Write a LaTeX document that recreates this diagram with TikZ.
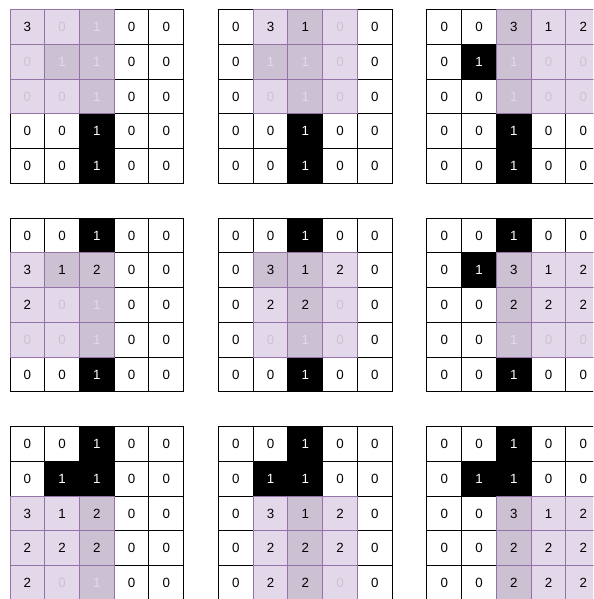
\documentclass[tikz,border=0pt]{standalone}
\usepackage{fontspec}
\setmainfont{Liberation Sans}
\usepackage{tikz}
\definecolor{winfill}{HTML}{E1D5E7}
\definecolor{winline}{HTML}{9673A6}
\tikzset{
  cell/.style    = {draw=black, line width=0.75pt, minimum size=26.05pt, inner sep=0pt,
                    font=\fontsize{10}{12}\selectfont},
  wincell/.style = {cell, draw=winline, fill=winfill, fill opacity=0.91, text opacity=1, text=black},
}

\begin{document}
\begin{tikzpicture}[x=0.75pt, y=-0.75pt]
  \clip (0,0) rectangle (593,599);
  \foreach \pr in {0,1,2} {
    \foreach \pc in {0,1,2} {
      \pgfmathtruncatemacro\nres{3*\pr+\pc+1}
      \foreach \rr in {0,...,4} {
        \foreach \cc in {0,...,4} {
          \pgfmathtruncatemacro\blk{or(\cc==2, and(\rr==1,\cc==1))}
          \pgfmathtruncatemacro\isres{and(and(\rr>=\pr,\rr<=\pr+2), and(and(\cc>=\pc,\cc<=\pc+2), 3*(\rr-\pr)+(\cc-\pc)<\nres))}
          \ifnum\blk=1 \def\cf{black}\def\tc{white}\else \def\cf{white}\def\tc{black}\fi
          \node[cell, fill=\cf, text=\tc] (p\pr\pc-\rr\cc) at (10+208.44*\pc+34.74*\cc+17.37, 9.7+208.44*\pr+34.74*\rr+17.37)
            {\ifnum\isres=0 \blk\fi};
        }
      }
      \foreach \i in {0,...,8} {
        \pgfmathtruncatemacro\rr{\pr+int(\i/3)}
        \pgfmathtruncatemacro\cc{\pc+mod(\i,3)}
        \pgfmathtruncatemacro\val{ifthenelse(\i==0,3,ifthenelse(\i==1,1,2))}
        \ifnum\i<\nres \edef\wtxt{\val}\else \def\wtxt{}\fi
        \node[wincell] (w\pr\pc-\i) at (p\pr\pc-\rr\cc) {\wtxt};
      }
    }
  }
\end{tikzpicture}
\end{document}
